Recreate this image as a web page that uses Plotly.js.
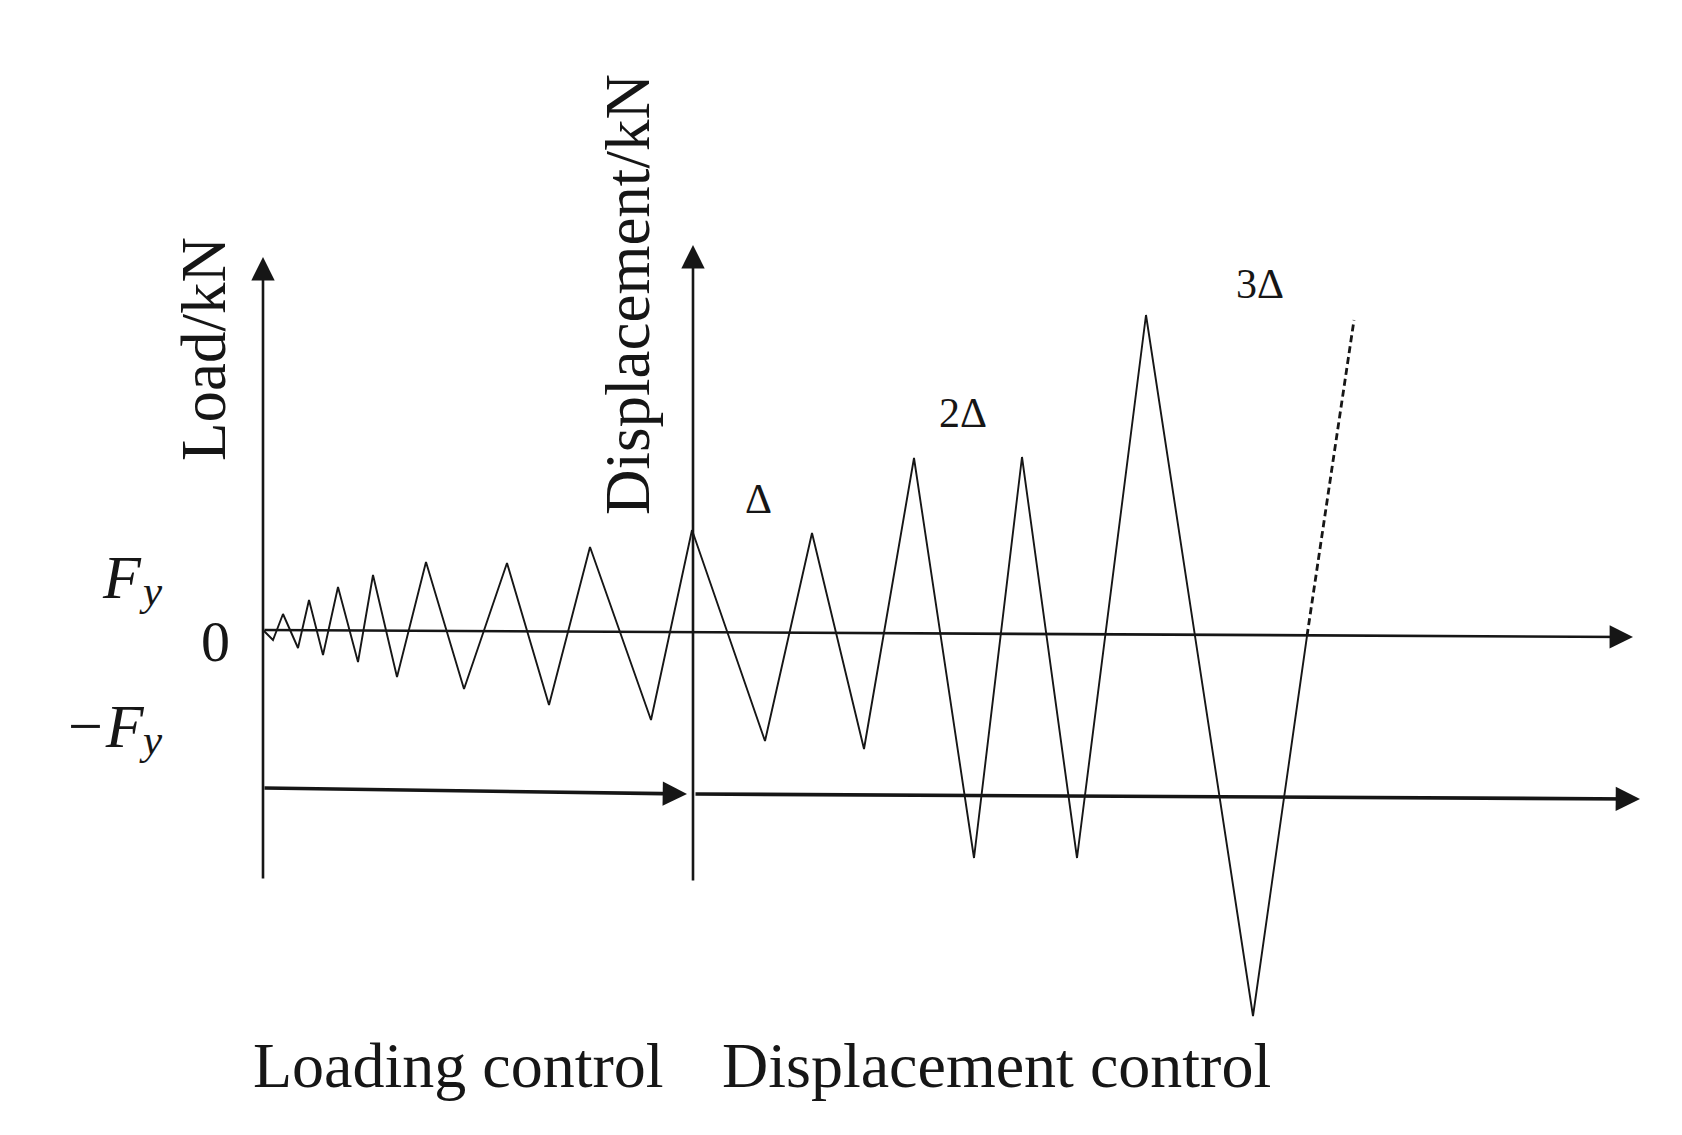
<!DOCTYPE html>
<html>
<head>
<meta charset="utf-8">
<script src="https://cdn.plot.ly/plotly-3.0.1.min.js"></script>
<style>html,body{margin:0;padding:0;background:#fff;}#chart{width:1682px;height:1135px;}</style>
</head>
<body>
<div id="chart"></div>
<script>
// Schematic loading protocol (x: loading step, y: load / displacement amplitude)
const loadCtrlX = [0, 10, 20, 35, 46, 60, 75, 95, 110, 134, 163, 201, 244, 286, 327, 388, 429];
const loadCtrlY = [0, -10, 16, -18, 30, -25, 43, -32, 55, -47, 68, -59, 67, -75, 83, -90, 100];
const dispCtrlX = [429, 502, 549, 601, 651, 711, 759, 814, 883, 990, 1044];
const dispCtrlY = [100, -111, 97, -119, 172, -228, 173, -228, 315, -386, -6];
const contX = [1044, 1091];
const contY = [-6, 310];

// Axis lines (tail -> tip)
const axisTailX = [0, 430, 0, 0, 431];
const axisTailY = [-250, -252, 0, -158, -164];
const axisTipX  = [0, 430, 1370, 424, 1377];
const axisTipY  = [373, 385, -7, -164, -169];
const axisWidth = [2.6, 2.6, 2.6, 3.6, 3.6];

// Text labels
const labelText = ['Load/kN', 'Displacement/kN', 'F', 'y', '0', '\u2212F', 'y',
  '\u0394', '2\u0394', '3\u0394', 'Loading control', 'Displacement control'];
const labelX = [-59, 365, -141, -112, -48, -159, -112, 495, 700, 997, 195, 733];
const labelY = [281, 335, 53, 40, -11, -96, -109, 131, 217, 346, -435, -435];
const labelSize = [63, 63, 62, 43, 58, 62, 43, 42, 42, 42, 64, 64];
const labelAngle = [-90, -90, 0, 0, 0, 0, 0, 0, 0, 0, 0, 0];
const labelStyle = ['normal', 'normal', 'italic', 'italic', 'normal', 'italic', 'italic',
  'normal', 'normal', 'normal', 'normal', 'normal'];

const ink = '#161616';
const fontFam = '"Liberation Serif", "Times New Roman", "DejaVu Serif", serif';

const traces = [
  {x: loadCtrlX, y: loadCtrlY, mode: 'lines', line: {color: ink, width: 1.9}, hoverinfo: 'skip'},
  {x: dispCtrlX, y: dispCtrlY, mode: 'lines', line: {color: ink, width: 1.9}, hoverinfo: 'skip'},
  {x: contX, y: contY, mode: 'lines', line: {color: ink, width: 2.8, dash: '7px,4px'}, hoverinfo: 'skip'}
];

const annotations = [];
for (let i = 0; i < axisTipX.length; i++) {
  annotations.push({
    x: axisTipX[i], y: axisTipY[i], ax: axisTailX[i], ay: axisTailY[i],
    xref: 'x', yref: 'y', axref: 'x', ayref: 'y',
    text: '', showarrow: true, arrowhead: 2, arrowsize: i >= 3 ? 1.35 : 1.8,
    arrowwidth: axisWidth[i], arrowcolor: ink, standoff: 0, startstandoff: 0
  });
}
for (let i = 0; i < labelText.length; i++) {
  annotations.push({
    x: labelX[i], y: labelY[i], xref: 'x', yref: 'y', text: labelText[i],
    showarrow: false, textangle: labelAngle[i], xanchor: 'center', yanchor: 'middle',
    font: {family: fontFam, size: labelSize[i], color: ink, style: labelStyle[i]}
  });
}

const layout = {
  width: 1682, height: 1135, autosize: false,
  margin: {l: 0, r: 0, t: 0, b: 0, pad: 0},
  paper_bgcolor: '#ffffff', plot_bgcolor: '#ffffff',
  showlegend: false,
  xaxis: {range: [-263, 1419], visible: false, fixedrange: true},
  yaxis: {range: [-505, 630], visible: false, fixedrange: true},
  annotations: annotations
};

Plotly.newPlot('chart', traces, layout, {staticPlot: true, displayModeBar: false});
</script>
</body>
</html>
